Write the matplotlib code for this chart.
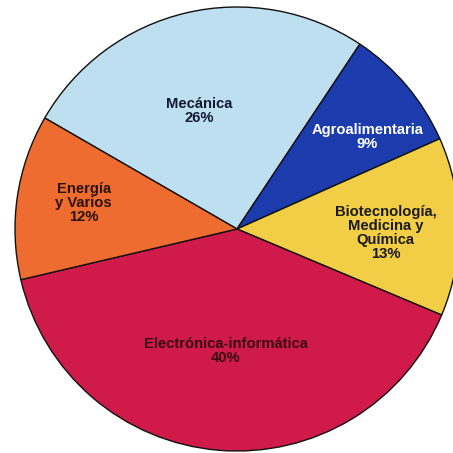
import numpy as np
import matplotlib
matplotlib.use("Agg")
import matplotlib.pyplot as plt

# data
labels = ["Mecánica\n26%", "Agroalimentaria\n9%", "Biotecnología,\nMedicina y\nQuímica\n13%",
          "Electrónica-informática\n40%", "Energía\ny Varios\n12%"]
shares = [26, 9, 13, 40, 12]
colors = ["#bddff0", "#1c3cae", "#f2cd46", "#d01a4a", "#ef6c30"]
text_colors = ["#141a30", "white", "#1a1a1a", "#3a0a14", "#2a1208"]
# label placement relative to each wedge's middle (radius fraction, angle shift in degrees)
label_radius = [0.56, 0.72, 0.67, 0.55, 0.70]
label_shift = [4.5, -5.0, -2.0, -0.5, -1.2]

fig = plt.figure(figsize=(4.53, 4.53), dpi=100)
ax = fig.add_axes([15 / 453, 2 / 453, 444 / 453, 444 / 453])

wedges, _ = ax.pie(shares, colors=colors, startangle=150, counterclock=False,
                   radius=1.0, wedgeprops=dict(edgecolor="#111111", linewidth=1.0))

for w, lab, tc, r, sh in zip(wedges, labels, text_colors, label_radius, label_shift):
    mid = np.deg2rad((w.theta1 + w.theta2) / 2 + sh)
    ax.text(r * np.cos(mid), r * np.sin(mid), lab, ha="center", va="center",
            fontsize=10.6, fontweight="bold", family="Liberation Sans",
            color=tc, linespacing=1.0)

ax.set_xlim(-1, 1)
ax.set_ylim(-1, 1)
ax.set_aspect("equal")
ax.axis("off")

fig.savefig("out.png", dpi=100)
